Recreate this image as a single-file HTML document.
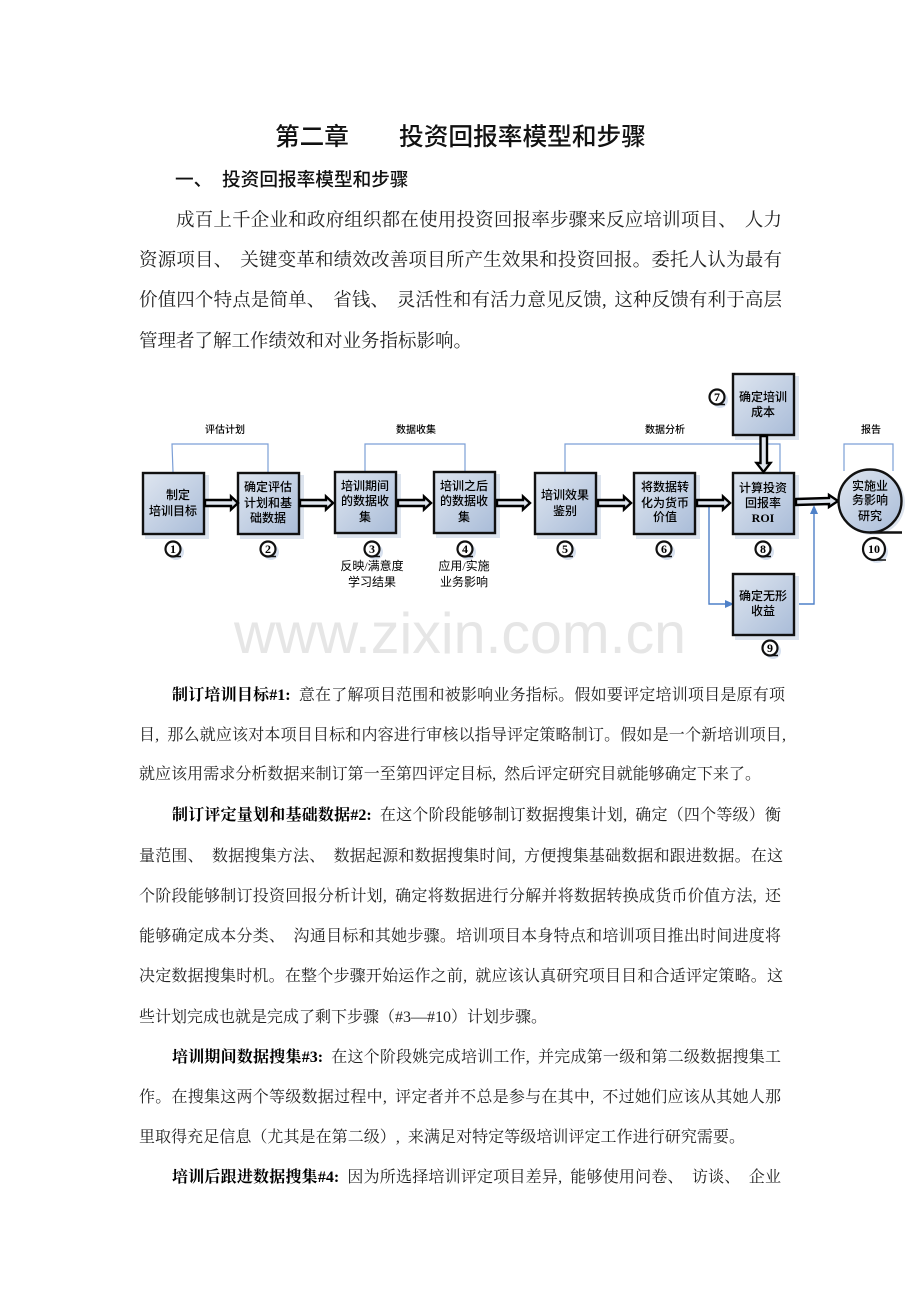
<!DOCTYPE html>
<html lang="zh"><head><meta charset="utf-8">
<style>
html,body{margin:0;padding:0;background:#fff}
#p{position:relative;width:920px;height:1302px;overflow:hidden;background:#fff;font-family:"Liberation Serif","Noto Serif CJK SC",serif;color:#222}
.l{position:absolute;white-space:nowrap;text-align:justify;text-align-last:justify;height:24px;line-height:24px;font-size:16px;word-spacing:4px;transform:translateY(2px)}
.b{font-size:18.5px;height:28px;line-height:28px;word-spacing:3px}
.s{font-weight:bold;color:#000}
.h{position:absolute;white-space:pre;font-family:"Liberation Sans","Noto Sans CJK SC",sans-serif;font-weight:500;color:#111}
svg{position:absolute;left:0;top:0}
svg text{font-family:"Liberation Serif","Noto Sans CJK SC",sans-serif;text-anchor:middle;fill:#000}
.t{font-size:12px;font-weight:500}
.c{font-size:10px;font-weight:500}
.n{font-size:12px;font-weight:bold;font-family:"Liberation Serif",serif}
.u{font-size:12px}
</style></head><body><div id="p">
<div class="h" style="left:275px;top:121px;font-size:24.6px;line-height:34px">第二章</div>
<div class="h" style="left:399px;top:121px;font-size:24.7px;line-height:34px">投资回报率模型和步骤</div>
<div class="h" style="left:175px;top:166px;font-size:18.67px;line-height:28px">一、</div>
<div class="h" style="left:222px;top:166px;font-size:18.67px;line-height:28px">投资回报率模型和步骤</div>

<div class="l b" style="left:176px;top:205px;width:606px">成百上千企业和政府组织都在使用投资回报率步骤来反应培训项目、 人力</div>
<div class="l b" style="left:139px;top:245px;width:643px">资源项目、 关键变革和绩效改善项目所产生效果和投资回报。委托人认为最有</div>
<div class="l b" style="left:139px;top:285px;width:643px">价值四个特点是简单、 省钱、 灵活性和有活力意见反馈, 这种反馈有利于高层</div>
<div class="l b" style="left:139px;top:326px;width:326px">管理者了解工作绩效和对业务指标影响。</div>

<svg width="920" height="1302" viewBox="0 0 920 1302">
<defs>
<linearGradient id="g" x1="0" y1="0" x2="1" y2="1"><stop offset="0" stop-color="#dfe6f0"/><stop offset="1" stop-color="#a9bcd8"/></linearGradient>
<symbol id="box" overflow="visible">
<rect x="3" y="3" width="64" height="64" fill="#dde4ee"/>
<rect x="1" y="1" width="61" height="61" fill="url(#g)" stroke="#111" stroke-width="2.4"/>
</symbol>
<g id="arr"><path d="M0 -3H26V-6.500L33 0L26 6.500V3H0Z" fill="#dfe5ee" stroke="#000" stroke-width="2.4"/></g>
</defs>
<text x="460" y="653" style="font-family:'Liberation Sans',sans-serif;font-size:57.300px;fill:#e6e6e6">www.zixin.com.cn</text>

<g fill="none" stroke="#7c9fd6" stroke-width="1.2">
<path d="M173 472L172 444H268V472"/>
<path d="M365 471V444H465V471"/>
<path d="M565 472V444H780V472"/>
<path d="M844 471V444H893V471"/>
</g>
<g fill="none" stroke="#4f81c8" stroke-width="1.4">
<path d="M709 506V604H730"/>
<path d="M794 604H814V510"/>
</g>
<path d="M725 600L734 604L725 608Z" fill="#4f81c8"/>
<path d="M810 514L814 505L818 514Z" fill="#4f81c8"/>

<use href="#box" x="142" y="472"/>
<use href="#box" x="237" y="472"/>
<use href="#box" x="334" y="471"/>
<use href="#box" x="433" y="471"/>
<use href="#box" x="534" y="472"/>
<use href="#box" x="633" y="472"/>
<use href="#box" x="732" y="472"/>
<use href="#box" x="732" y="373"/>
<use href="#box" x="732" y="573"/>

<use href="#arr" x="205" y="503"/>
<use href="#arr" x="300" y="503"/>
<use href="#arr" x="398" y="503"/>
<use href="#arr" x="497" y="503"/>
<use href="#arr" x="598" y="503"/>
<use href="#arr" x="697" y="503"/>
<path d="M796 499L829 498V495L838 501L829 507V504L796 505Z" fill="#dfe5ee" stroke="#000" stroke-width="2.400"/>
<path d="M760.500 436H767V463H770.500L763.500 472L756.500 463H760.500Z" fill="#dfe5ee" stroke="#000" stroke-width="2.400"/>

<circle cx="873" cy="503" r="32" fill="#dde4ee"/>
<circle cx="870" cy="501" r="31.500" fill="url(#g)" stroke="#111" stroke-width="2.400"/>
<path d="M870 532.500H902" stroke="#111" stroke-width="2.400"/>

<g class="t">
<text x="178" y="499">制定</text><text x="173" y="515">培训目标</text>
<text x="268" y="491">确定评估</text><text x="268" y="507">计划和基</text><text x="268" y="522">础数据</text>
<text x="365" y="490">培训期间</text><text x="365" y="505">的数据收</text><text x="365" y="521">集</text>
<text x="464" y="490">培训之后</text><text x="464" y="505">的数据收</text><text x="464" y="521">集</text>
<text x="565" y="499">培训效果</text><text x="565" y="515">鉴别</text>
<text x="665" y="491">将数据转</text><text x="665" y="507">化为货币</text><text x="665" y="521">价值</text>
<text x="763" y="401">确定培训</text><text x="763" y="416">成本</text>
<text x="763" y="492">计算投资</text><text x="763" y="507">回报率</text><text x="763" y="522" style="font-weight:bold">ROI</text>
<text x="763" y="600">确定无形</text><text x="763" y="615">收益</text>
<text x="870" y="490">实施业</text><text x="870" y="504">务影响</text><text x="870" y="520">研究</text>
</g>
<g class="c">
<text x="225" y="433">评估计划</text>
<text x="416" y="433">数据收集</text>
<text x="665" y="433">数据分析</text>
<text x="871" y="433">报告</text>
</g>
<g class="u">
<text x="372" y="570">反映/满意度</text><text x="372" y="586">学习结果</text>
<text x="464" y="570">应用/实施</text><text x="464" y="586">业务影响</text>
</g>

<g fill="#d8e1ef">
<circle cx="176" cy="552" r="8"/><circle cx="271" cy="552" r="8"/><circle cx="375" cy="552" r="8"/><circle cx="468" cy="552" r="8"/>
<circle cx="568" cy="552" r="8"/><circle cx="667" cy="552" r="8"/><circle cx="766" cy="552" r="8"/><circle cx="720" cy="400" r="8"/><circle cx="773" cy="651" r="8"/>
<circle cx="877" cy="552" r="11"/>
</g>
<g fill="#fff" stroke="#111" stroke-width="2.200">
<circle cx="173" cy="549" r="7.500"/><circle cx="268" cy="549" r="7.500"/><circle cx="372" cy="549" r="7.500"/><circle cx="465" cy="549" r="7.500"/>
<circle cx="565" cy="549" r="7.500"/><circle cx="664" cy="549" r="7.500"/><circle cx="763" cy="549" r="7.500"/><circle cx="717" cy="397" r="7.500"/><circle cx="770" cy="648" r="7.500"/>
<circle cx="874" cy="549" r="11"/>
</g>
<g stroke="#111" stroke-width="1.500">
<path d="M173 556.500H181"/><path d="M268 556.500H276"/><path d="M372 556.500H380"/><path d="M465 556.500H473"/><path d="M565 556.500H573"/><path d="M664 556.500H672"/><path d="M763 556.500H771"/><path d="M717 404.500H725"/><path d="M770 655.500H778"/><path d="M874 560H886"/>
</g>
<g class="n">
<text x="173" y="553">1</text><text x="268" y="553">2</text><text x="372" y="553">3</text><text x="465" y="553">4</text>
<text x="565" y="553">5</text><text x="664" y="553">6</text><text x="763" y="553">8</text><text x="717" y="401">7</text><text x="770" y="652">9</text><text x="874" y="553">10</text>
</g>
</svg>

<div class="l" style="left:172px;top:682px;width:613px"><span class="s">制订培训目标#1:</span> 意在了解项目范围和被影响业务指标。假如要评定培训项目是原有项</div>
<div class="l" style="left:139px;top:722px;width:647px">目, 那么就应该对本项目目标和内容进行审核以指导评定策略制订。假如是一个新培训项目,</div>
<div class="l" style="left:139px;top:761px;width:622px">就应该用需求分析数据来制订第一至第四评定目标, 然后评定研究目就能够确定下来了。</div>

<div class="l" style="left:172px;top:802px;width:609px"><span class="s">制订评定量划和基础数据#2:</span> 在这个阶段能够制订数据搜集计划, 确定（四个等级）衡</div>
<div class="l" style="left:139px;top:843px;width:644px">量范围、 数据搜集方法、 数据起源和数据搜集时间, 方便搜集基础数据和跟进数据。在这</div>
<div class="l" style="left:139px;top:883px;width:642px">个阶段能够制订投资回报分析计划, 确定将数据进行分解并将数据转换成货币价值方法, 还</div>
<div class="l" style="left:139px;top:923px;width:642px">能够确定成本分类、 沟通目标和其她步骤。培训项目本身特点和培训项目推出时间进度将</div>
<div class="l" style="left:139px;top:963px;width:644px">决定数据搜集时机。在整个步骤开始运作之前, 就应该认真研究项目目和合适评定策略。这</div>
<div class="l" style="left:139px;top:1004px;width:405px">些计划完成也就是完成了剩下步骤（#3—#10）计划步骤。</div>

<div class="l" style="left:172px;top:1044px;width:609px"><span class="s">培训期间数据搜集#3:</span> 在这个阶段姚完成培训工作, 并完成第一级和第二级数据搜集工</div>
<div class="l" style="left:139px;top:1084px;width:642px">作。在搜集这两个等级数据过程中, 评定者并不总是参与在其中, 不过她们应该从其她人那</div>
<div class="l" style="left:139px;top:1124px;width:606px">里取得充足信息（尤其是在第二级）, 来满足对特定等级培训评定工作进行研究需要。</div>
<div class="l" style="left:172px;top:1164px;width:609px"><span class="s">培训后跟进数据搜集#4:</span> 因为所选择培训评定项目差异, 能够使用问卷、 访谈、 企业</div>
</div></body></html>
